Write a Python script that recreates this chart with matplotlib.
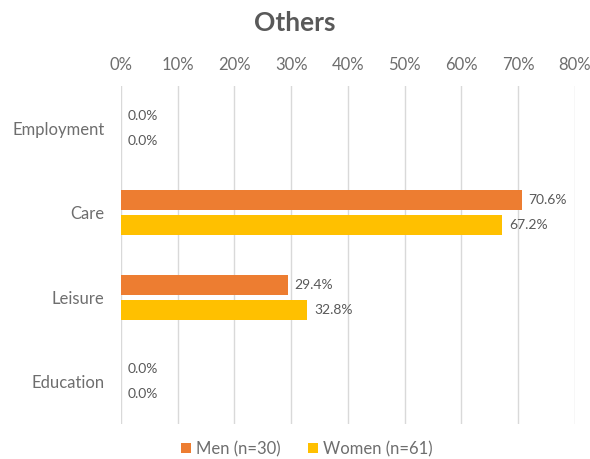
import matplotlib.pyplot as plt
import numpy as np
from matplotlib.ticker import PercentFormatter

categories = ["Employment", "Care", "Leisure", "Education"]
men = [0.0, 70.6, 29.4, 0.0]
women = [0.0, 67.2, 32.8, 0.0]
men_label = "Men (n=30)"
women_label = "Women (n=61)"

ORANGE = "#ED7D31"
YELLOW = "#FFC000"
GREY = "#595959"
TICK_GREY = "#6E6E6E"

plt.rcParams['font.family'] = ['Lato', 'DejaVu Sans']

fig = plt.figure(figsize=(5.9, 4.59), dpi=100)
ax = fig.add_axes([0.205, 0.076, 0.7695, 0.737])

y = np.arange(len(categories))
h = 0.24
off = 0.148
b1 = ax.barh(y - off, men, height=h, color=ORANGE, label=men_label, zorder=3)
b2 = ax.barh(y + off, women, height=h, color=YELLOW, label=women_label, zorder=3)

for bars, vals in ((b1, men), (b2, women)):
    for bar, v in zip(bars, vals):
        ax.annotate(f"{v:.1f}%", (v, bar.get_y() + bar.get_height() / 2),
                    xytext=(5, 0), textcoords="offset points",
                    va="center", ha="left", fontsize=10, color=GREY)

ax.set_xlim(0, 80)
ax.set_ylim(len(categories) - 0.5, -0.5)
ax.set_xticks(np.arange(0, 81, 10))
ax.xaxis.set_major_formatter(PercentFormatter(decimals=0))
ax.xaxis.tick_top()
ax.set_yticks(y)
ax.set_yticklabels(categories)
ax.tick_params(length=0, labelsize=12, colors=TICK_GREY)
ax.tick_params(axis="y", pad=12)
ax.tick_params(axis="x", pad=9)
ax.grid(axis="x", color="#D9D9D9", linewidth=1, zorder=0)
for s in ax.spines.values():
    s.set_visible(False)

fig.suptitle("Others", fontsize=19, fontweight="bold", color=GREY, y=0.975)

fig.legend(handles=[b1, b2], loc="center", bbox_to_anchor=(0.52, 0.022),
           ncol=2, frameon=False, fontsize=12, labelcolor=TICK_GREY,
           handlelength=0.6, handleheight=0.6, handletextpad=0.3, columnspacing=1.6)

fig.savefig("out.png", dpi=100)
